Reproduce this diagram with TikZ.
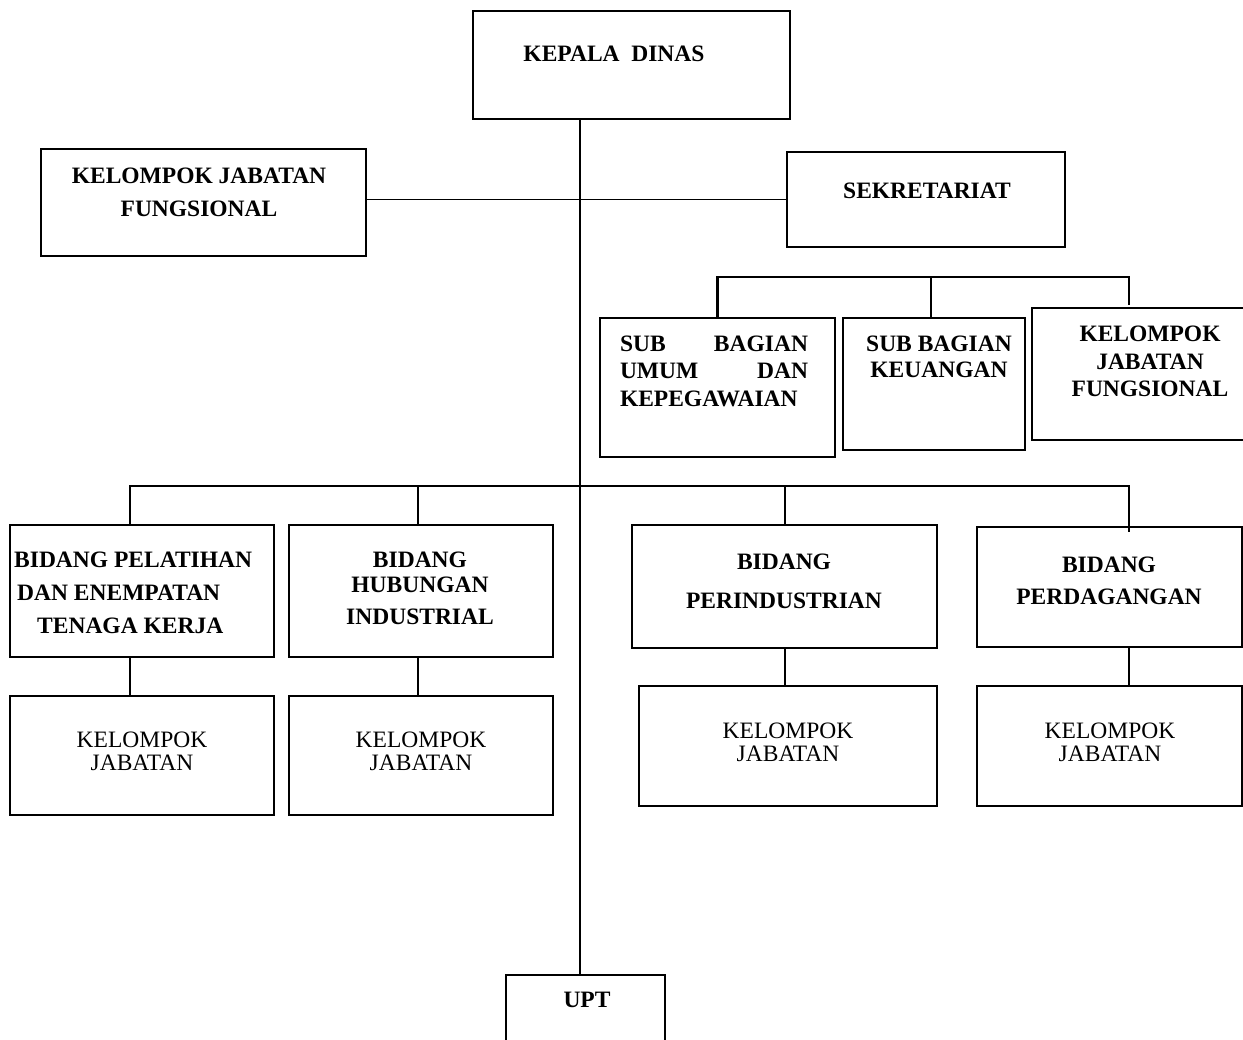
\documentclass[tikz,border=0pt]{standalone}
\usepackage{fontspec}
\setmainfont{Liberation Serif}
\newcommand\bfs[1]{\fontsize{23.5}{#1}\selectfont\bfseries}
\newcommand\rgs[1]{\fontsize{23.5}{#1}\selectfont}
\newcommand\bx[5]{\node[box, minimum width={(#4-#2)*1pt}, minimum height={(#5-#3)*1pt}] (#1) at ({(#2+#4)/2},{(#3+#5)/2}) {};}
\tikzset{
  box/.style={draw, line width=1.3pt, inner sep=0pt},
  conn/.style={line width=1.3pt},
  bus/.style={line width=2.7pt},
  lbl/.style={inner sep=0pt, align=center}
}
\begin{document}
\begin{tikzpicture}[x=1pt,y=-1pt]
\useasboundingbox (0,0) rectangle (1243,1040);
\clip (0,0) rectangle (1243,1040);
% boxes
\bx{kd}{473}{11}{790}{119}
\bx{kjfL}{41}{149}{366}{256}
\bx{sek}{787}{152}{1065}{247}
\bx{sbu}{600}{318}{835}{457}
\bx{sbk}{843}{318}{1025}{450}
\bx{kjfR}{1032}{308}{1262}{440}
\bx{bpl}{10}{525}{274}{657}
\bx{bhi}{289}{525}{553}{657}
\bx{bpi}{632}{525}{937}{648}
\bx{bpd}{977}{527}{1242}{647}
\bx{kj1}{10}{696}{274}{815}
\bx{kj2}{289}{696}{553}{815}
\bx{kj3}{639}{686}{937}{806}
\bx{kj4}{977}{686}{1242}{806}
\bx{upt}{506}{975}{665}{1062}
% labels
\node[lbl, font=\bfs{28}] (tkd) at (614,54) {KEPALA\ \ DINAS};
\node[lbl, font=\bfs{33}] (tkjfL) at (199,192.5) {KELOMPOK JABATAN\\FUNGSIONAL};
\node[lbl, font=\bfs{28}] (tsek) at (927,191) {SEKRETARIAT};
\node[lbl, font=\bfs{27.5}, text width=188pt, align=left] (tsbu) at (714,371)
  {\makebox[\linewidth][s]{SUB\hfill BAGIAN}\\\makebox[\linewidth][s]{UMUM\hfill DAN}\\KEPEGAWAIAN};
\node[lbl, font=\bfs{26}] (tsbk) at (939,357) {SUB BAGIAN\\KEUANGAN};
\node[lbl, font=\bfs{27.5}] (tkjfR) at (1150,361.5) {KELOMPOK\\JABATAN\\FUNGSIONAL};
\node[lbl, font=\bfs{33}, align=left, anchor=west] (tbpl) at (14,593)
  {BIDANG PELATIHAN\\\hspace*{3pt}DAN ENEMPATAN\\\hspace*{23pt}TENAGA KERJA};
\node[lbl, font=\bfs{25}] (tbhi) at (420,588.5) {BIDANG\\HUBUNGAN\\[7pt]INDUSTRIAL};
\node[lbl, font=\bfs{39}] (tbpi) at (784,581.5) {BIDANG\\PERINDUSTRIAN};
\node[lbl, font=\bfs{32}] (tbpd) at (1109,581) {BIDANG\\PERDAGANGAN};
\node[lbl, font=\rgs{23}] (tkj1) at (142,751.5) {KELOMPOK\\JABATAN};
\node[lbl, font=\rgs{23}] (tkj2) at (421,751.5) {KELOMPOK\\JABATAN};
\node[lbl, font=\rgs{23}] (tkj3) at (788,742.5) {KELOMPOK\\JABATAN};
\node[lbl, font=\rgs{23}] (tkj4) at (1110,742.5) {KELOMPOK\\JABATAN};
\node[lbl, font=\bfs{28}] (tupt) at (587,1000) {UPT};
% helper coordinates
\coordinate (spine) at (580,0);
\coordinate (sb) at (0,277);
\coordinate (mb) at (0,486);
\coordinate (x1) at (130,0);
\coordinate (x2) at (418,0);
\coordinate (x3) at (785,0);
\coordinate (x4) at (1129,0);
\coordinate (xs2) at (931,0);
% connectors
\draw[conn] (kd.south -| spine) -- (upt.north -| spine);
\draw[conn] (kjfL.east |- sek.west) -- (sek.west);
\draw[bus] (sbu.north) -- (sbu.north |- sb) -- (sb -| x4) -- ([yshift=2pt]kjfR.north -| x4);
\draw[bus] (sbk.north -| xs2) -- (sb -| xs2);
\draw[bus] (bpl.north -| x1) -- (mb -| x1) -- (mb -| x4) -- ([yshift=-6pt]bpd.north -| x4);
\draw[bus] (bhi.north -| x2) -- (mb -| x2);
\draw[bus] (bpi.north -| x3) -- (mb -| x3);
\draw[bus] (bpl.south -| x1) -- (kj1.north -| x1);
\draw[bus] (bhi.south -| x2) -- (kj2.north -| x2);
\draw[bus] (bpi.south -| x3) -- (kj3.north -| x3);
\draw[bus] (bpd.south -| x4) -- (kj4.north -| x4);
\end{tikzpicture}
\end{document}
